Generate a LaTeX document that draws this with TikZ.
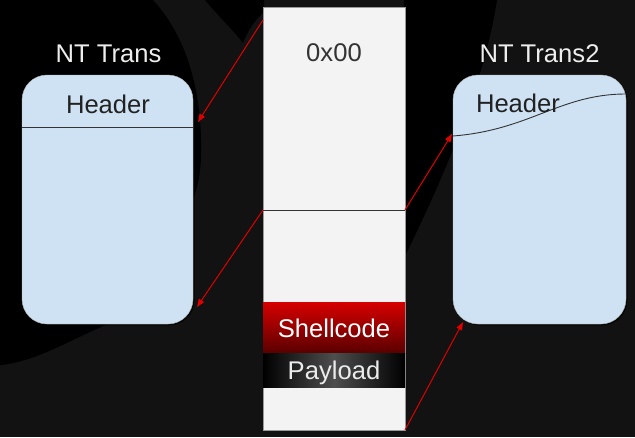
\documentclass[tikz,border=0pt]{standalone}
\usepackage{fontspec}
\setmainfont{Liberation Sans}
\usetikzlibrary{arrows.meta,shadows}
\definecolor{bg}{HTML}{121212}
\definecolor{boxblue}{HTML}{CFE2F3}
\definecolor{colfill}{HTML}{F3F3F3}
\definecolor{arrowred}{HTML}{E00000}
\definecolor{shtop}{HTML}{D60000}
\definecolor{shbot}{HTML}{5A0000}
\definecolor{paymid}{HTML}{4E4E4E}
\definecolor{titlecol}{HTML}{EEEEEE}
\definecolor{darktext}{HTML}{222222}
\begin{document}
\begin{tikzpicture}[x=1pt,y=-1pt,
  lbl/.style={font=\fontsize{25.6}{30}\selectfont, inner sep=0pt, anchor=base},
  title/.style={lbl, text=titlecol},
  dark/.style={lbl, text=darktext},
  light/.style={lbl, text=white},
  structbox/.style={rectangle, rounded corners=25pt, fill=boxblue, draw=black!30, line width=0.4pt,
    minimum width=171pt, minimum height=249pt, inner sep=0pt, outer sep=0pt,
    drop shadow={shadow xshift=1.5pt, shadow yshift=-1.5pt, opacity=0.6, fill=black}},
  bar/.style={rectangle, minimum width=142pt, inner sep=0pt, outer sep=0pt},
  sepline/.style={draw=black!80, line width=0.9pt},
  arr/.style={draw=arrowred, line width=1pt, -{Triangle[length=8pt,width=6pt]}}
]
% background
\fill[bg] (0,0) rectangle (635,437);
\useasboundingbox (0,0) rectangle (635,437);
% black swirls
\fill[black] (0,0) -- (153,0) .. controls (185,35) and (200,85) .. (201,140)
  .. controls (202,170) and (198,190) .. (190,205) -- (110,323)
  .. controls (70,340) and (35,362) .. (0,365) -- cycle;
\fill[black] (205,0) .. controls (220,18) and (235,32) .. (243,43)
  .. controls (248,30) and (255,20) .. (264,12) -- (264,0) -- cycle;
\fill[black] (404,0) -- (497,0) .. controls (485,80) and (445,175) .. (404,258) -- cycle;

% memory column
\node[bar, minimum height=423pt, fill=colfill, draw=black!40, line width=0.6pt] (col) at (334,218.5) {};
\draw[sepline] (col.west |- 0,210) -- (col.east |- 0,210);
\node[bar, minimum height=51pt, top color=shtop, bottom color=shbot] (shell) at (334,327.5) {};
\node[bar, minimum height=34pt, left color=black, right color=black, middle color=paymid] (pay) at (334,370) {};
\node[lbl, text=black!80] (zero) at (334,61) {0x00};
\node[light] (shtxt) at (334,337) {Shellcode};
\node[light, text=white!92!black] (paytxt) at (334,379) {Payload};

% left structure
\node[structbox] (lbox) at (107.5,199.5) {};
\draw[sepline] (lbox.west |- 0,127) -- (lbox.east |- 0,127);
\node[title] (ltitle) at (108.5,62) {NT Trans};
\node[dark] (lhead) at (108,113) {Header};

% right structure
\node[structbox, minimum width=173pt] (rbox) at (539.5,199.5) {};
\draw[sepline] (rbox.west |- 0,136) .. controls (530,130) and (560,94) .. (rbox.east |- 0,94);
\node[title] (rtitle) at (539.5,62) {NT Trans2};
\node[dark] (rhead) at (518,112) {Header};

% arrows
\coordinate (a1s) at (col.west |- 0,20);
\coordinate (a1e) at (198,122);
\coordinate (a2s) at (col.west |- 0,210);
\coordinate (a2e) at (197,307);
\coordinate (a3s) at (col.east |- 0,210);
\coordinate (a3e) at (452,134);
\coordinate (a4s) at (col.east |- 0,430);
\coordinate (a4e) at (463,322);
\draw[arr] (a1s) -- (a1e);
\draw[arr] (a2s) -- (a2e);
\draw[arr] (a3s) -- (a3e);
\draw[arr] (a4s) -- (a4e);
\end{tikzpicture}
\end{document}
